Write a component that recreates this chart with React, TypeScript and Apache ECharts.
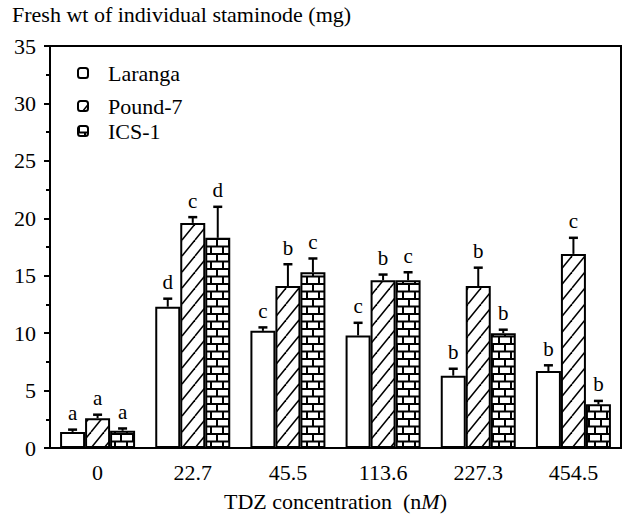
import React, { useEffect, useRef } from "react";
import * as echarts from "echarts";

const categories = ["0", "22.7", "45.5", "113.6", "227.3", "454.5"];
const seriesNames = ["Laranga", "Pound-7", "ICS-1"];
const laranga = [1.4, 12.3, 10.2, 9.8, 6.3, 6.7];
const larangaErr = [0.2, 0.7, 0.3, 1.1, 0.6, 0.5];
const larangaLetters = ["a", "d", "c", "c", "b", "b"];
const pound = [2.6, 19.6, 14.1, 14.6, 14.1, 16.9];
const poundErr = [0.3, 0.5, 1.9, 0.5, 1.6, 1.4];
const poundLetters = ["a", "c", "b", "b", "b", "c"];
const ics = [1.5, 18.3, 15.3, 14.6, 10.0, 3.8];
const icsErr = [0.2, 2.7, 1.2, 0.7, 0.3, 0.3];
const icsLetters = ["a", "d", "c", "c", "b", "b"];
const yTicks = { min: 0, max: 35, interval: 5 };

const FONT = "'Liberation Serif', 'DejaVu Serif', serif";
const FS = 22;
const BAR_W = 25;

function makeHatch() {
  const w = 13, h = 16;
  const c = document.createElement("canvas");
  c.width = w; c.height = h;
  const ctx = c.getContext("2d")!;
  ctx.fillStyle = "#fff";
  ctx.fillRect(0, 0, w, h);
  ctx.strokeStyle = "#000";
  ctx.lineWidth = 1.6;
  for (const dx of [-w, 0, w]) {
    ctx.beginPath();
    ctx.moveTo(dx, h);
    ctx.lineTo(dx + w, 0);
    ctx.stroke();
  }
  return { image: c.toDataURL(), imageWidth: w, imageHeight: h, repeat: "repeat" };
}

function makeBrick() {
  const w = 12, h = 15;
  const c = document.createElement("canvas");
  c.width = w; c.height = h;
  const ctx = c.getContext("2d")!;
  ctx.fillStyle = "#000";
  ctx.fillRect(0, 0, w, h);
  ctx.fillStyle = "#fff";
  ctx.fillRect(2, 0, 10, 5.5);
  ctx.fillRect(0, 7.5, 6, 5.5);
  ctx.fillRect(8, 7.5, 4, 5.5);
  return { image: c.toDataURL(), imageWidth: w, imageHeight: h, repeat: "repeat" };
}

function errSeries(values: number[], errs: number[], letters: string[], offset: number) {
  return {
    type: "custom",
    silent: true,
    z: 5,
    encode: { x: 0, y: 1 },
    data: values.map((v, i) => [i, v, errs[i]]),
    renderItem: (params: any, api: any) => {
      const idx = api.value(0);
      const v = api.value(1);
      const e = api.value(2);
      const letter = letters[params.dataIndex];
      const x = api.coord([idx, 0])[0] + offset;
      const yTop = api.coord([idx, v])[1];
      const yErr = api.coord([idx, v + e])[1];
      return {
        type: "group",
        children: [
          { type: "line", shape: { x1: x, y1: yTop, x2: x, y2: yErr }, style: { stroke: "#000", lineWidth: 2 } },
          { type: "line", shape: { x1: x - 4.5, y1: yErr, x2: x + 4.5, y2: yErr }, style: { stroke: "#000", lineWidth: 2.5 } },
          {
            type: "text",
            style: {
              text: letter,
              x: x,
              y: yErr - 6,
              align: "center",
              verticalAlign: "bottom",
              fill: "#000",
              font: `21px ${FONT}`,
            },
          },
        ],
      };
    },
  };
}

function legendItem(name: string, top: number) {
  return {
    data: [name],
    orient: "vertical",
    left: 77,
    top,
    itemWidth: 10,
    itemHeight: 10,
    padding: 0,
    selectedMode: false,
    formatter: "{sp|}{n|" + name + "}",
    textStyle: {
      fontFamily: FONT,
      fontSize: FS,
      color: "#000",
      rich: {
        sp: { width: 15 },
        n: { fontFamily: FONT, fontSize: FS, color: "#000" },
      },
    },
  };
}

export default function App() {
  const ref = useRef<HTMLDivElement>(null);
  useEffect(() => {
    const chart = echarts.init(ref.current!, null, { renderer: "svg" });
    const hatch = makeHatch();
    const brick = makeBrick();
    const barBase = { type: "bar", barWidth: BAR_W, barGap: "0%", z: 3 };
    chart.setOption({
      animation: false,
      backgroundColor: "#fff",
      title: {
        text: "Fresh wt of individual staminode (mg)",
        left: 12,
        top: 3,
        padding: 0,
        textStyle: { fontFamily: FONT, fontSize: FS, fontWeight: "normal", color: "#000" },
      },
      legend: [
        legendItem(seriesNames[0], 62),
        legendItem(seriesNames[1], 95),
        legendItem(seriesNames[2], 120),
      ],
      grid: {
        left: 50,
        right: 3,
        top: 46,
        bottom: 75,
        containLabel: false,
        outerBoundsMode: "none",
        show: true,
        borderColor: "#000",
        borderWidth: 2,
        backgroundColor: "transparent",
      },
      xAxis: {
        type: "category",
        data: categories,
        name: "TDZ concentration  (n{i|M})",
        nameLocation: "middle",
        nameGap: 42,
        nameTextStyle: {
          fontFamily: FONT,
          fontSize: FS,
          color: "#000",
          rich: { i: { fontFamily: FONT, fontSize: FS, fontStyle: "italic", color: "#000" } },
        },
        axisLine: { lineStyle: { color: "#000", width: 2 } },
        axisTick: { alignWithLabel: true, length: 6, lineStyle: { color: "#000", width: 2 } },
        axisLabel: { fontFamily: FONT, fontSize: FS, color: "#000", margin: 13 },
        splitLine: { show: false },
      },
      yAxis: {
        type: "value",
        min: yTicks.min,
        max: yTicks.max,
        interval: yTicks.interval,
        axisLine: { show: true, lineStyle: { color: "#000", width: 2 } },
        axisTick: { show: true, length: 6, lineStyle: { color: "#000", width: 2 } },
        minorTick: { show: true, splitNumber: 2, length: 4, lineStyle: { color: "#000", width: 2 } },
        axisLabel: { fontFamily: FONT, fontSize: FS, color: "#000", margin: 14 },
        splitLine: { show: false },
      },
      series: [
        { ...barBase, name: seriesNames[0], data: laranga, itemStyle: { color: "#fff", borderColor: "#000", borderWidth: 2 } },
        { ...barBase, name: seriesNames[1], data: pound, itemStyle: { color: hatch, borderColor: "#000", borderWidth: 2 } },
        { ...barBase, name: seriesNames[2], data: ics, itemStyle: { color: brick, borderColor: "#000", borderWidth: 2 } },
        errSeries(laranga, larangaErr, larangaLetters, -BAR_W),
        errSeries(pound, poundErr, poundLetters, 0),
        errSeries(ics, icsErr, icsLetters, BAR_W),
      ],
    });
    return () => chart.dispose();
  }, []);
  return <div ref={ref} style={{ width: 624, height: 523, position: "absolute", left: 0, top: 0 }} />;
}
